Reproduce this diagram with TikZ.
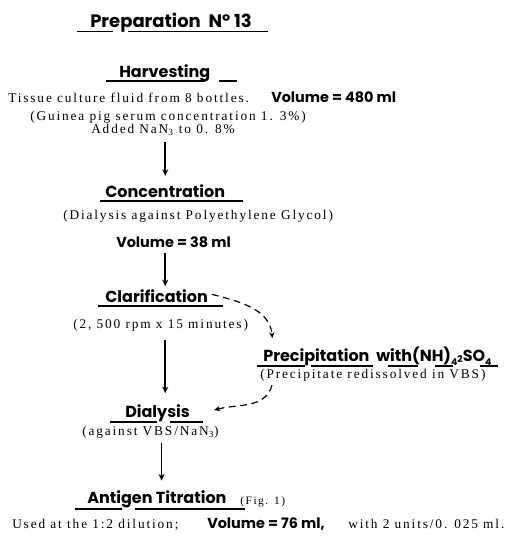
\documentclass[tikz,border=0pt]{standalone}
\usepackage{fontspec}
\usetikzlibrary{arrows.meta}
\setmainfont{Liberation Serif}
\newfontfamily\headfont{Poppins}
\newfontfamily\typefont[LetterSpace=14]{Liberation Serif}

\tikzset{
  head/.style={anchor=base west,inner sep=0pt,font=\headfont\bfseries\fontsize{12}{12}\selectfont},
  vol/.style={anchor=base west,inner sep=0pt,font=\headfont\bfseries\fontsize{10.8}{11}\selectfont},
  note/.style={anchor=base west,inner sep=0pt,font=\typefont\fontsize{10}{11}\selectfont},
  flow/.style={line width=1.1pt,-{Stealth[length=5pt,width=4.5pt]}},
  dflow/.style={line width=0.9pt,dash pattern=on 5pt off 3.5pt,-{Stealth[length=4.5pt,width=4pt]}},
  uline/.style={line width=0.9pt}
}

\begin{document}
\begin{tikzpicture}
    [x=0.75pt,y=-0.75pt]
    \useasboundingbox (0,0) rectangle (506,539);
    % title
    \node[head,font=\headfont\bfseries\fontsize{13.5}{14}\selectfont] (prep) at (90,27) {Preparation\ \ Nº 13};
    \draw[uline] (77,31.5) -- (113,31.5) (128,31.5) -- (268,31.5);
    % harvesting
    \node[head] (harv) at (119,77) {Harvesting};
    \draw[uline] (106,81) -- (205,81) (219,81) -- (237,81);
    \node[note] (tissue) at (8,102) {Tissue culture fluid from 8 bottles.};
    \node[vol] (vol1) at (271,102) {Volume = 480 ml};
    \node[note] (guinea) at (30,120) {(Guinea pig serum concentration 1. 3\%)};
    \node[note] (added) at (91,133) {Added NaN\textsubscript{3} to 0. 8\%};
    % concentration
    \node[head] (conc) at (105,197) {Concentration};
    \draw[uline] (100,201) -- (243,201);
    \node[note] (peg) at (63,219) {(Dialysis against Polyethylene Glycol)};
    \node[vol] (vol2) at (116,247) {Volume = 38 ml};
    % clarification
    \node[head] (clar) at (105,302) {Clarification};
    \draw[uline] (98,306) -- (223,306);
    \node[note] (rpm) at (73,328) {(2, 500 rpm x 15 minutes)};
    % precipitation
    \node[head] (precip) at (263,361) {Precipitation\ \ with(NH)\raisebox{-3pt}{\fontsize{7}{7}\selectfont 4}\raisebox{-1pt}{\fontsize{7}{7}\selectfont 2}SO\raisebox{-3pt}{\fontsize{7}{7}\selectfont 4}};
    \draw[uline] (257,366) -- (305,366) (311,366) -- (373,366) (388,366) -- (418,366)
      (435,366) -- (453,366) (480,366) -- (498,366);
    \node[note] (redis) at (260,378) {(Precipitate redissolved in VBS)};
    % dialysis
    \node[head] (dialy) at (125,417) {Dialysis};
    \draw[uline] (110,422) -- (157,422) (170,422) -- (203,422);
    \node[note] (against) at (82,435) {(against VBS/NaN\textsubscript{3})};
    % titration
    \node[head] (antig) at (87,503) {Antigen Titration};
    \node[note,font=\typefont\fontsize{8.5}{9}\selectfont] (fig) at (240,504) {(Fig. 1)};
    \draw[uline] (75,509) -- (122,509) (135,509) -- (245,509);
    \node[note] (used) at (12,528) {Used at the 1:2 dilution;};
    \node[vol] (vol3) at (207,528) {Volume = 76 ml,};
    \node[note] (with) at (348,528) {with 2 units/0. 025 ml.};
    % arrows
    \draw[flow] ([yshift=-5pt]added.south -| conc.north) -- ([yshift=6pt]conc.north);
    \draw[flow] ([yshift=-4pt]vol2.south -| conc.south) -- ([yshift=2pt]clar.north -| conc.south);
    \draw[flow] ([yshift=-7pt]rpm.south -| conc.south) -- ([yshift=8pt]dialy.north -| conc.south);
    \draw[flow] ([xshift=3pt,yshift=-4pt]against.south -| dialy.south) -- ([xshift=3pt,yshift=7pt]antig.north -| dialy.south);
    \draw[dflow] ([xshift=3pt,yshift=1pt]clar.east) to[out=-15,in=95] ([xshift=7pt,yshift=6pt]precip.north west);
    \draw[dflow] ([xshift=9pt,yshift=-3pt]redis.south west) to[out=-105,in=15] ([xshift=18pt,yshift=2pt]dialy.east);
  \end{tikzpicture}
\end{document}
